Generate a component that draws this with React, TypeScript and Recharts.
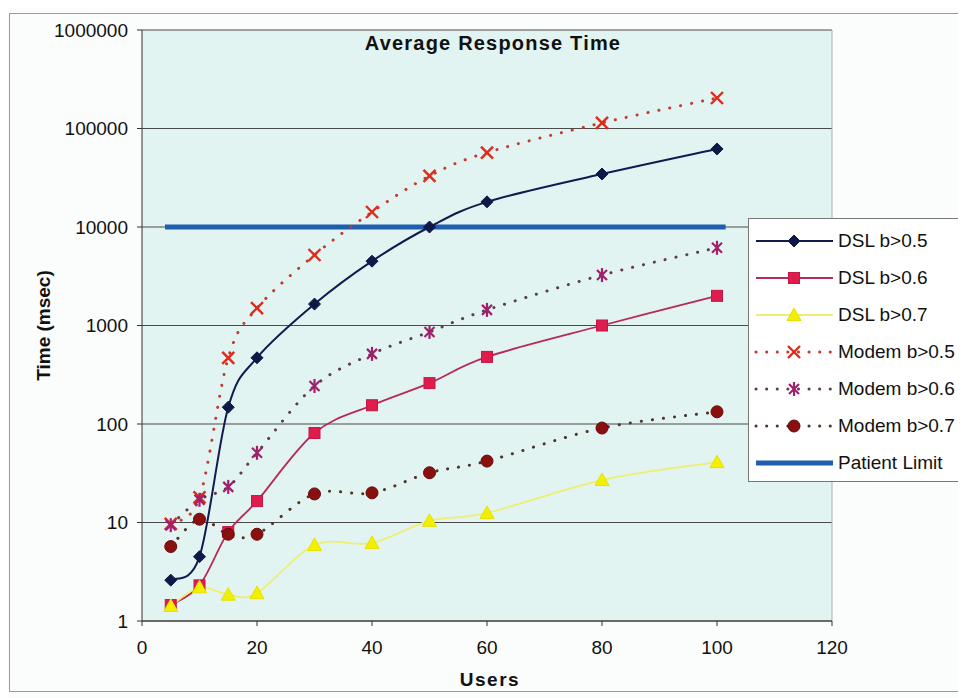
import React from 'react';
import { LineChart, Line, XAxis, YAxis, CartesianGrid, Legend, ReferenceLine } from 'recharts';

const users = [5, 10, 15, 20, 30, 40, 50, 60, 80, 100];
const dslB05 = [2.6, 4.5, 148, 470, 1650, 4500, 10000, 18000, 34500, 62000];
const dslB06 = [1.45, 2.3, 8, 16.5, 81, 155, 260, 480, 1000, 2000];
const dslB07 = [1.42, 2.2, 1.85, 1.92, 5.9, 6.2, 10.4, 12.5, 27, 41];
const modemB05 = [9.7, 18, 470, 1500, 5200, 14200, 33000, 57000, 114000, 204000];
const modemB06 = [9.4, 17, 23, 51, 243, 515, 860, 1440, 3250, 6150];
const modemB07 = [5.7, 10.8, 7.6, 7.6, 19.5, 20, 32, 42, 91, 133];
const limitUsers = [4, 101.5];
const limitValues = [10000, 10000];
const yTicks = [1, 10, 100, 1000, 10000, 100000, 1000000];
const xTicks = [0, 20, 40, 60, 80, 100, 120];

const FONT = 'Arial, "Liberation Sans", Helvetica, sans-serif';

type Series = {
  key: string;
  name: string;
  values: number[];
  stroke: string;
  width: number;
  dotted: boolean;
  marker: string;
  markerColor: string;
};

const seriesList: Series[] = [
  { key: 'dsl05', name: 'DSL b>0.5', values: dslB05, stroke: '#121a4e', width: 2, dotted: false, marker: 'diamond', markerColor: '#101848' },
  { key: 'dsl06', name: 'DSL b>0.6', values: dslB06, stroke: '#b82a56', width: 1.8, dotted: false, marker: 'square', markerColor: '#e01c4c' },
  { key: 'dsl07', name: 'DSL b>0.7', values: dslB07, stroke: '#eeee70', width: 1.8, dotted: false, marker: 'triangle', markerColor: '#f2f000' },
  { key: 'modem05', name: 'Modem b>0.5', values: modemB05, stroke: '#c23a2c', width: 3, dotted: true, marker: 'x', markerColor: '#e02a1c' },
  { key: 'modem06', name: 'Modem b>0.6', values: modemB06, stroke: '#5e3c4c', width: 3, dotted: true, marker: 'star', markerColor: '#a0206c' },
  { key: 'modem07', name: 'Modem b>0.7', values: modemB07, stroke: '#4e3426', width: 3, dotted: true, marker: 'circle', markerColor: '#8a1010' },
];

const tableData = users.map((u, i) => {
  const row: Record<string, number> = { users: u };
  seriesList.forEach((s) => {
    row[s.key] = s.values[i];
  });
  return row;
});

const limitData = limitUsers.map((u, i) => ({ users: u, limit: limitValues[i] }));

// Smoothed curve in the style of spreadsheet "smoothed line" (Catmull-Rom / Bezier)
const smoothCurve: any = (context: any) => {
  let pts: [number, number][] = [];
  return {
    areaStart() {},
    areaEnd() {},
    lineStart() {
      pts = [];
    },
    lineEnd() {
      const n = pts.length;
      if (n === 0) return;
      context.moveTo(pts[0][0], pts[0][1]);
      for (let i = 0; i < n - 1; i++) {
        const p0 = pts[i - 1] || pts[i];
        const p1 = pts[i];
        const p2 = pts[i + 1];
        const p3 = pts[i + 2] || pts[i + 1];
        const c1x = p1[0] + (p2[0] - p0[0]) / 6;
        const c1y = p1[1] + (p2[1] - p0[1]) / 6;
        const c2x = p2[0] - (p3[0] - p1[0]) / 6;
        const c2y = p2[1] - (p3[1] - p1[1]) / 6;
        context.bezierCurveTo(c1x, c1y, c2x, c2y, p2[0], p2[1]);
      }
    },
    point(x: number, y: number) {
      pts.push([+x, +y]);
    },
  };
};

function drawMarker(type: string, cx: number, cy: number, color: string, key?: React.Key) {
  const r = 6;
  switch (type) {
    case 'diamond':
      return <path key={key} d={`M${cx},${cy - r}L${cx + r},${cy}L${cx},${cy + r}L${cx - r},${cy}Z`} fill={color} stroke={color} strokeWidth={1} />;
    case 'square':
      return <rect key={key} x={cx - 5.5} y={cy - 5.5} width={11} height={11} fill={color} stroke="#c01848" strokeWidth={1} />;
    case 'triangle':
      return <path key={key} d={`M${cx},${cy - 7}L${cx + 7},${cy + 5.5}L${cx - 7},${cy + 5.5}Z`} fill={color} stroke="#e8e000" strokeWidth={1} />;
    case 'x':
      return (
        <g key={key} stroke={color} strokeWidth={2.4}>
          <line x1={cx - r} y1={cy - r} x2={cx + r} y2={cy + r} />
          <line x1={cx - r} y1={cy + r} x2={cx + r} y2={cy - r} />
        </g>
      );
    case 'star':
      return (
        <g key={key} stroke={color} strokeWidth={2.2}>
          <line x1={cx - 5} y1={cy - 5} x2={cx + 5} y2={cy + 5} />
          <line x1={cx - 5} y1={cy + 5} x2={cx + 5} y2={cy - 5} />
          <line x1={cx} y1={cy - 7} x2={cx} y2={cy + 7} />
        </g>
      );
    case 'circle':
    default:
      return <circle key={key} cx={cx} cy={cy} r={6} fill={color} stroke="#6a0a0a" strokeWidth={1} />;
  }
}

const makeDot = (type: string, color: string) => (props: any) => {
  const { cx, cy, index } = props;
  if (cx == null || cy == null || isNaN(cx) || isNaN(cy)) return <g key={`e${index}`} />;
  return drawMarker(type, cx, cy, color, `m${index}`);
};

const LegendBox = () => {
  const rowH = 37;
  return (
    <div
      style={{
        position: 'relative',
        width: 214,
        height: 264,
        boxSizing: 'border-box',
        background: '#ffffff',
        border: '1px solid #777',
        fontFamily: FONT,
        fontSize: 19,
        color: '#111',
      }}
    >
      {seriesList.map((s, i) => (
        <div key={s.key} style={{ position: 'absolute', left: 0, top: 22 + i * rowH - 12, height: 24, width: 214 }}>
          <svg width={86} height={24} style={{ position: 'absolute', left: 0, top: 0 }}>
            <line
              x1={7}
              y1={12}
              x2={84}
              y2={12}
              stroke={s.stroke}
              strokeWidth={s.width}
              strokeDasharray={s.dotted ? '0.1 10.5' : undefined}
              strokeLinecap={s.dotted ? 'round' : 'butt'}
            />
            {drawMarker(s.marker, 45, 12, s.markerColor)}
          </svg>
          <span style={{ position: 'absolute', left: 89, top: 1, lineHeight: '22px', whiteSpace: 'nowrap' }}>{s.name}</span>
        </div>
      ))}
      <div style={{ position: 'absolute', left: 0, top: 22 + 6 * rowH - 12, height: 24, width: 214 }}>
        <svg width={86} height={24} style={{ position: 'absolute', left: 0, top: 0 }}>
          <line x1={7} y1={12} x2={84} y2={12} stroke="#1e5eac" strokeWidth={5} />
        </svg>
        <span style={{ position: 'absolute', left: 89, top: 1, lineHeight: '22px', whiteSpace: 'nowrap' }}>Patient Limit</span>
      </div>
    </div>
  );
};

const fmt = (v: number) => String(Math.round(v));

export default function App() {
  return (
    <div style={{ position: 'relative', width: 958, height: 690, background: '#fbfcfc', fontFamily: FONT }}>
      <div
        style={{
          position: 'absolute',
          left: 1,
          top: 5,
          width: 970,
          height: 679,
          border: '1px solid #9a9a9a',
          boxSizing: 'border-box',
        }}
      />
      <LineChart width={958} height={690} margin={{ top: 22, right: 134, left: 0, bottom: 0 }}>
        <CartesianGrid horizontal vertical={false} stroke="#4a4a4a" strokeWidth={1} fill="#e2f4f2" fillOpacity={1} />
        <XAxis
          dataKey="users"
          type="number"
          domain={[0, 120]}
          ticks={xTicks}
          allowDataOverflow
          height={77}
          tickSize={5}
          tickMargin={15}
          stroke="#333"
          tick={{ fill: '#111', fontSize: 19, fontFamily: FONT }}
          label={{
            content: (p: any) => {
              const vb = p.viewBox || {};
              const cx = (vb.x ?? 134) + (vb.width ?? 690) / 2;
              return (
                <text x={cx + 3} y={678} textAnchor="middle" fontFamily={FONT} fontSize={19} fontWeight="bold" letterSpacing={1.5} fill="#111">
                  Users
                </text>
              );
            },
          }}
        />
        <YAxis
          type="number"
          scale="log"
          domain={[1, 1000000]}
          ticks={yTicks}
          allowDataOverflow
          width={134}
          tickSize={5}
          tickMargin={9}
          stroke="#333"
          tickFormatter={fmt}
          tick={{ fill: '#111', fontSize: 19, fontFamily: FONT }}
          label={{
            content: (p: any) => {
              const vb = p.viewBox || {};
              const cy = (vb.y ?? 22) + (vb.height ?? 591) / 2;
              const x = 37;
              return (
                <text
                  x={x}
                  y={cy}
                  transform={`rotate(-90 ${x} ${cy})`}
                  textAnchor="middle"
                  dominantBaseline="middle"
                  fontFamily={FONT}
                  fontSize={19}
                  fontWeight="bold"
                  fill="#111"
                >
                  Time (msec)
                </text>
              );
            },
          }}
        />
        <ReferenceLine x={120} stroke="#a8b0ae" strokeWidth={1} />
        <Line
          data={limitData}
          dataKey="limit"
          name="Patient Limit"
          stroke="#1e5eac"
          strokeWidth={5}
          dot={false}
          activeDot={false}
          isAnimationActive={false}
          legendType="none"
        />
        {seriesList.map((s) => (
          <Line
            key={s.key}
            data={tableData}
            dataKey={s.key}
            name={s.name}
            type={smoothCurve}
            stroke={s.stroke}
            strokeWidth={s.width}
            strokeDasharray={s.dotted ? '0.1 11' : undefined}
            strokeLinecap={s.dotted ? 'round' : 'butt'}
            dot={makeDot(s.marker, s.markerColor)}
            activeDot={false}
            isAnimationActive={false}
          />
        ))}
        <Legend
          layout="horizontal"
          verticalAlign="middle"
          align="center"
          content={() => <LegendBox />}
          wrapperStyle={{ left: 740, top: 210, width: 214, height: 264 }}
        />
      </LineChart>
      <div
        style={{
          position: 'absolute',
          left: 285,
          top: 25,
          width: 400,
          textAlign: 'center',
          fontFamily: FONT,
          fontSize: 20,
          lineHeight: '20px',
          fontWeight: 'bold',
          letterSpacing: 1.2,
          color: '#111',
        }}
      >
        Average Response Time
      </div>
    </div>
  );
}
